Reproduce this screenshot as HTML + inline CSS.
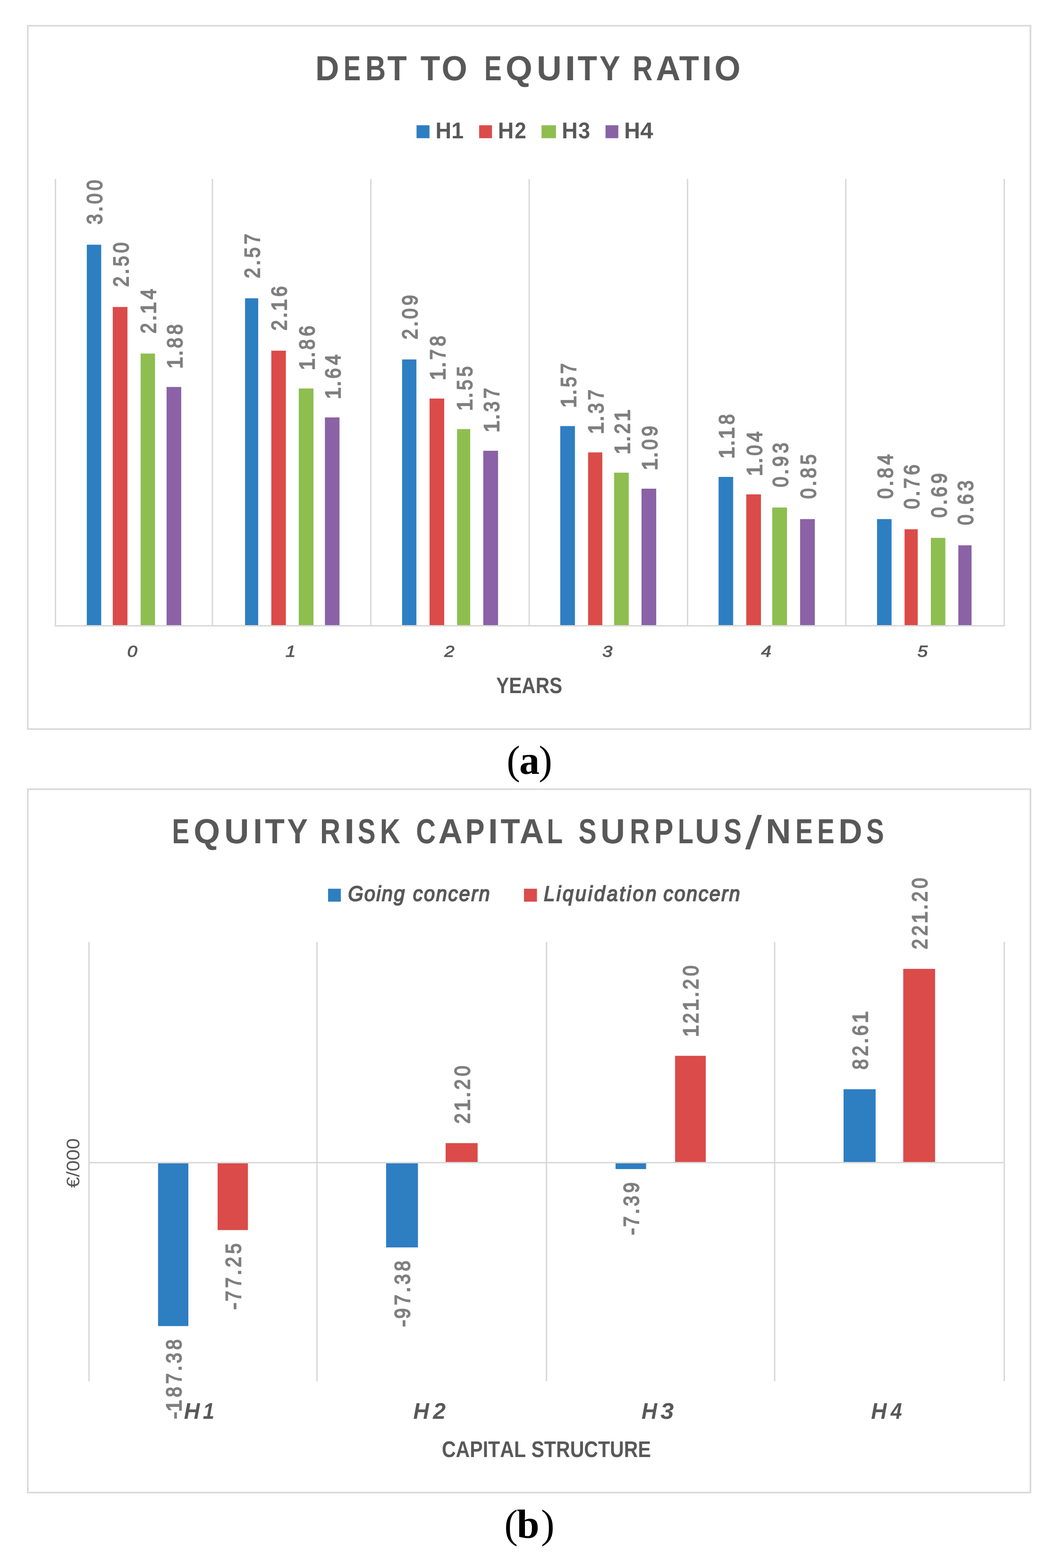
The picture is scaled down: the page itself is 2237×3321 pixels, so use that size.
<!DOCTYPE html>
<html><head><meta charset="utf-8"><title>Debt to equity ratio and equity risk capital charts</title>
<style>
html,body{margin:0;padding:0;background:#fff;}
body{width:2237px;height:3321px;overflow:hidden;}
svg{display:block;}
text{font-kerning:none;text-rendering:geometricPrecision;}
</style></head>
<body>
<svg width="2237" height="3321" viewBox="0 0 2237 3321">
<rect width="2237" height="3321" fill="#fff"/>
<defs><filter id="soft" filterUnits="userSpaceOnUse" x="0" y="0" width="2237" height="3321"><feGaussianBlur stdDeviation="0.6"/></filter></defs>
<g filter="url(#soft)">
<rect x="58.85" y="54.5" width="2124.05" height="1489.60" fill="none" stroke="#d9d9d9" stroke-width="3.4"/>
<rect x="58.85" y="1671.5" width="2124.05" height="1489.75" fill="none" stroke="#d9d9d9" stroke-width="3.4"/>
<text y="169.60" font-size="73.76" style="font-family:'Liberation Sans',sans-serif;font-weight:bold;font-style:normal;fill:#595959"><tspan x="668.03" y="169.60" textLength="50.40" lengthAdjust="spacingAndGlyphs">D</tspan><tspan x="727.75" y="169.60" textLength="36.38" lengthAdjust="spacingAndGlyphs">E</tspan><tspan x="774.00" y="169.60" textLength="43.22" lengthAdjust="spacingAndGlyphs">B</tspan><tspan x="820.44" y="169.60" textLength="41.29" lengthAdjust="spacingAndGlyphs">T</tspan> <tspan x="890.83" y="169.60" textLength="41.70" lengthAdjust="spacingAndGlyphs">T</tspan><tspan x="935.54" y="169.60" textLength="54.29" lengthAdjust="spacingAndGlyphs">O</tspan> <tspan x="1026.10" y="169.60" textLength="36.85" lengthAdjust="spacingAndGlyphs">E</tspan><tspan x="1071.01" y="169.60" textLength="56.76" lengthAdjust="spacingAndGlyphs">Q</tspan><tspan x="1137.01" y="169.60" textLength="52.74" lengthAdjust="spacingAndGlyphs">U</tspan><tspan x="1196.77" y="169.60" textLength="22.57" lengthAdjust="spacingAndGlyphs">I</tspan><tspan x="1223.44" y="169.60" textLength="41.49" lengthAdjust="spacingAndGlyphs">T</tspan><tspan x="1269.67" y="169.60" textLength="44.10" lengthAdjust="spacingAndGlyphs">Y</tspan> <tspan x="1340.29" y="169.60" textLength="42.21" lengthAdjust="spacingAndGlyphs">R</tspan><tspan x="1389.20" y="169.60" textLength="52.21" lengthAdjust="spacingAndGlyphs">A</tspan><tspan x="1438.73" y="169.60" textLength="42.01" lengthAdjust="spacingAndGlyphs">T</tspan><tspan x="1486.89" y="169.60" textLength="21.22" lengthAdjust="spacingAndGlyphs">I</tspan><tspan x="1513.40" y="169.60" textLength="55.08" lengthAdjust="spacingAndGlyphs">O</tspan></text>
<rect x="882.40" y="265.30" width="27.40" height="27.40" fill="#2e7ec2"/>
<text y="292.60" font-size="48.26" style="font-family:'Liberation Sans',sans-serif;font-weight:bold;font-style:normal;fill:#595959"><tspan x="922.38" y="292.60" textLength="33.66" lengthAdjust="spacingAndGlyphs">H</tspan><tspan x="956.36" y="292.60" textLength="25.94" lengthAdjust="spacingAndGlyphs">1</tspan></text>
<rect x="1015.00" y="265.30" width="27.20" height="27.40" fill="#db4c4a"/>
<text y="292.60" font-size="48.26" style="font-family:'Liberation Sans',sans-serif;font-weight:bold;font-style:normal;fill:#595959"><tspan x="1054.79" y="292.60" textLength="33.54" lengthAdjust="spacingAndGlyphs">H</tspan><tspan x="1090.27" y="292.60" textLength="24.49" lengthAdjust="spacingAndGlyphs">2</tspan></text>
<rect x="1147.20" y="265.30" width="30.60" height="27.40" fill="#8dbe4f"/>
<text y="292.60" font-size="48.26" style="font-family:'Liberation Sans',sans-serif;font-weight:bold;font-style:normal;fill:#595959"><tspan x="1190.07" y="292.60" textLength="33.78" lengthAdjust="spacingAndGlyphs">H</tspan><tspan x="1224.96" y="292.60" textLength="25.17" lengthAdjust="spacingAndGlyphs">3</tspan></text>
<rect x="1282.70" y="265.30" width="27.10" height="27.40" fill="#8a62a5"/>
<text y="292.60" font-size="48.26" style="font-family:'Liberation Sans',sans-serif;font-weight:bold;font-style:normal;fill:#595959"><tspan x="1322.37" y="292.60" textLength="33.78" lengthAdjust="spacingAndGlyphs">H</tspan><tspan x="1356.26" y="292.60" textLength="27.31" lengthAdjust="spacingAndGlyphs">4</tspan></text>
<rect x="116.00" y="379.00" width="3.00" height="946.50" fill="#d9d9d9"/>
<rect x="448.50" y="379.00" width="3.00" height="946.50" fill="#d9d9d9"/>
<rect x="784.00" y="379.00" width="3.00" height="946.50" fill="#d9d9d9"/>
<rect x="1119.50" y="379.00" width="3.00" height="946.50" fill="#d9d9d9"/>
<rect x="1455.00" y="379.00" width="3.00" height="946.50" fill="#d9d9d9"/>
<rect x="1790.10" y="379.00" width="3.00" height="946.50" fill="#d9d9d9"/>
<rect x="2126.00" y="379.00" width="3.00" height="946.50" fill="#d9d9d9"/>
<rect x="183.90" y="518.30" width="30.50" height="807.20" fill="#2e7ec2"/>
<text transform="translate(216.46,478.57) rotate(-90)" y="0" font-size="45.50" style="font-family:'Liberation Sans',sans-serif;font-weight:normal;font-style:normal;fill:#7f7f7f;stroke:#7f7f7f;stroke-width:2.2"><tspan x="3.36" textLength="22.02" lengthAdjust="spacingAndGlyphs">3</tspan><tspan x="29.68">.</tspan><tspan x="46.74" textLength="22.02" lengthAdjust="spacingAndGlyphs">0</tspan><tspan x="75.24" textLength="22.02" lengthAdjust="spacingAndGlyphs">0</tspan></text>
<rect x="238.90" y="650.20" width="31.10" height="675.30" fill="#db4c4a"/>
<text transform="translate(271.76,610.83) rotate(-90)" y="0" font-size="45.50" style="font-family:'Liberation Sans',sans-serif;font-weight:normal;font-style:normal;fill:#7f7f7f;stroke:#7f7f7f;stroke-width:2.2"><tspan x="3.24" textLength="22.02" lengthAdjust="spacingAndGlyphs">2</tspan><tspan x="29.68">.</tspan><tspan x="46.78" textLength="22.02" lengthAdjust="spacingAndGlyphs">5</tspan><tspan x="75.24" textLength="22.02" lengthAdjust="spacingAndGlyphs">0</tspan></text>
<rect x="297.90" y="748.80" width="30.50" height="576.70" fill="#8dbe4f"/>
<text transform="translate(330.46,709.43) rotate(-90)" y="0" font-size="45.50" style="font-family:'Liberation Sans',sans-serif;font-weight:normal;font-style:normal;fill:#7f7f7f;stroke:#7f7f7f;stroke-width:2.2"><tspan x="3.24" textLength="22.02" lengthAdjust="spacingAndGlyphs">2</tspan><tspan x="29.68">.</tspan><tspan x="44.48">1</tspan><tspan x="75.37" textLength="22.02" lengthAdjust="spacingAndGlyphs">4</tspan></text>
<rect x="352.90" y="819.60" width="31.00" height="505.90" fill="#8a62a5"/>
<text transform="translate(385.71,779.94) rotate(-90)" y="0" font-size="45.50" style="font-family:'Liberation Sans',sans-serif;font-weight:normal;font-style:normal;fill:#7f7f7f;stroke:#7f7f7f;stroke-width:2.2"><tspan x="-1.02">1</tspan><tspan x="25.68">.</tspan><tspan x="42.74" textLength="22.02" lengthAdjust="spacingAndGlyphs">8</tspan><tspan x="71.24" textLength="22.02" lengthAdjust="spacingAndGlyphs">8</tspan></text>
<rect x="519.10" y="631.80" width="27.90" height="693.70" fill="#2e7ec2"/>
<text transform="translate(550.36,592.43) rotate(-90)" y="0" font-size="45.50" style="font-family:'Liberation Sans',sans-serif;font-weight:normal;font-style:normal;fill:#7f7f7f;stroke:#7f7f7f;stroke-width:2.2"><tspan x="3.24" textLength="22.02" lengthAdjust="spacingAndGlyphs">2</tspan><tspan x="29.68">.</tspan><tspan x="46.78" textLength="22.02" lengthAdjust="spacingAndGlyphs">5</tspan><tspan x="75.22" textLength="22.02" lengthAdjust="spacingAndGlyphs">7</tspan></text>
<rect x="574.70" y="742.70" width="30.90" height="582.80" fill="#db4c4a"/>
<text transform="translate(607.46,703.33) rotate(-90)" y="0" font-size="45.50" style="font-family:'Liberation Sans',sans-serif;font-weight:normal;font-style:normal;fill:#7f7f7f;stroke:#7f7f7f;stroke-width:2.2"><tspan x="3.24" textLength="22.02" lengthAdjust="spacingAndGlyphs">2</tspan><tspan x="29.68">.</tspan><tspan x="44.48">1</tspan><tspan x="75.11" textLength="22.02" lengthAdjust="spacingAndGlyphs">6</tspan></text>
<rect x="632.90" y="822.80" width="31.20" height="502.70" fill="#8dbe4f"/>
<text transform="translate(665.81,783.14) rotate(-90)" y="0" font-size="45.50" style="font-family:'Liberation Sans',sans-serif;font-weight:normal;font-style:normal;fill:#7f7f7f;stroke:#7f7f7f;stroke-width:2.2"><tspan x="-1.02">1</tspan><tspan x="25.68">.</tspan><tspan x="42.74" textLength="22.02" lengthAdjust="spacingAndGlyphs">8</tspan><tspan x="71.11" textLength="22.02" lengthAdjust="spacingAndGlyphs">6</tspan></text>
<rect x="688.30" y="884.10" width="30.90" height="441.40" fill="#8a62a5"/>
<text transform="translate(721.06,844.44) rotate(-90)" y="0" font-size="45.50" style="font-family:'Liberation Sans',sans-serif;font-weight:normal;font-style:normal;fill:#7f7f7f;stroke:#7f7f7f;stroke-width:2.2"><tspan x="-1.02">1</tspan><tspan x="25.68">.</tspan><tspan x="42.61" textLength="22.02" lengthAdjust="spacingAndGlyphs">6</tspan><tspan x="71.37" textLength="22.02" lengthAdjust="spacingAndGlyphs">4</tspan></text>
<rect x="851.80" y="761.30" width="30.30" height="564.20" fill="#2e7ec2"/>
<text transform="translate(884.26,721.93) rotate(-90)" y="0" font-size="45.50" style="font-family:'Liberation Sans',sans-serif;font-weight:normal;font-style:normal;fill:#7f7f7f;stroke:#7f7f7f;stroke-width:2.2"><tspan x="3.24" textLength="22.02" lengthAdjust="spacingAndGlyphs">2</tspan><tspan x="29.68">.</tspan><tspan x="46.74" textLength="22.02" lengthAdjust="spacingAndGlyphs">0</tspan><tspan x="75.25" textLength="22.02" lengthAdjust="spacingAndGlyphs">9</tspan></text>
<rect x="910.00" y="844.10" width="31.00" height="481.40" fill="#db4c4a"/>
<text transform="translate(942.81,804.44) rotate(-90)" y="0" font-size="45.50" style="font-family:'Liberation Sans',sans-serif;font-weight:normal;font-style:normal;fill:#7f7f7f;stroke:#7f7f7f;stroke-width:2.2"><tspan x="-1.02">1</tspan><tspan x="25.68">.</tspan><tspan x="42.72" textLength="22.02" lengthAdjust="spacingAndGlyphs">7</tspan><tspan x="71.24" textLength="22.02" lengthAdjust="spacingAndGlyphs">8</tspan></text>
<rect x="968.30" y="908.80" width="27.80" height="416.70" fill="#8dbe4f"/>
<text transform="translate(999.51,869.14) rotate(-90)" y="0" font-size="45.50" style="font-family:'Liberation Sans',sans-serif;font-weight:normal;font-style:normal;fill:#7f7f7f;stroke:#7f7f7f;stroke-width:2.2"><tspan x="-1.02">1</tspan><tspan x="25.68">.</tspan><tspan x="42.78" textLength="22.02" lengthAdjust="spacingAndGlyphs">5</tspan><tspan x="71.28" textLength="22.02" lengthAdjust="spacingAndGlyphs">5</tspan></text>
<rect x="1023.70" y="954.70" width="31.40" height="370.80" fill="#8a62a5"/>
<text transform="translate(1056.71,915.04) rotate(-90)" y="0" font-size="45.50" style="font-family:'Liberation Sans',sans-serif;font-weight:normal;font-style:normal;fill:#7f7f7f;stroke:#7f7f7f;stroke-width:2.2"><tspan x="-1.02">1</tspan><tspan x="25.68">.</tspan><tspan x="42.86" textLength="22.02" lengthAdjust="spacingAndGlyphs">3</tspan><tspan x="71.22" textLength="22.02" lengthAdjust="spacingAndGlyphs">7</tspan></text>
<rect x="1186.80" y="902.40" width="31.10" height="423.10" fill="#2e7ec2"/>
<text transform="translate(1219.66,862.74) rotate(-90)" y="0" font-size="45.50" style="font-family:'Liberation Sans',sans-serif;font-weight:normal;font-style:normal;fill:#7f7f7f;stroke:#7f7f7f;stroke-width:2.2"><tspan x="-1.02">1</tspan><tspan x="25.68">.</tspan><tspan x="42.78" textLength="22.02" lengthAdjust="spacingAndGlyphs">5</tspan><tspan x="71.22" textLength="22.02" lengthAdjust="spacingAndGlyphs">7</tspan></text>
<rect x="1245.80" y="958.20" width="30.10" height="367.30" fill="#db4c4a"/>
<text transform="translate(1278.16,918.54) rotate(-90)" y="0" font-size="45.50" style="font-family:'Liberation Sans',sans-serif;font-weight:normal;font-style:normal;fill:#7f7f7f;stroke:#7f7f7f;stroke-width:2.2"><tspan x="-1.02">1</tspan><tspan x="25.68">.</tspan><tspan x="42.86" textLength="22.02" lengthAdjust="spacingAndGlyphs">3</tspan><tspan x="71.22" textLength="22.02" lengthAdjust="spacingAndGlyphs">7</tspan></text>
<rect x="1300.90" y="1001.10" width="31.00" height="324.40" fill="#8dbe4f"/>
<text transform="translate(1333.71,961.44) rotate(-90)" y="0" font-size="45.50" style="font-family:'Liberation Sans',sans-serif;font-weight:normal;font-style:normal;fill:#7f7f7f;stroke:#7f7f7f;stroke-width:2.2"><tspan x="-1.02">1</tspan><tspan x="25.68">.</tspan><tspan x="42.74" textLength="22.02" lengthAdjust="spacingAndGlyphs">2</tspan><tspan x="68.98">1</tspan></text>
<rect x="1359.00" y="1035.00" width="31.10" height="290.50" fill="#8a62a5"/>
<text transform="translate(1391.86,995.34) rotate(-90)" y="0" font-size="45.50" style="font-family:'Liberation Sans',sans-serif;font-weight:normal;font-style:normal;fill:#7f7f7f;stroke:#7f7f7f;stroke-width:2.2"><tspan x="-1.02">1</tspan><tspan x="25.68">.</tspan><tspan x="42.74" textLength="22.02" lengthAdjust="spacingAndGlyphs">0</tspan><tspan x="71.25" textLength="22.02" lengthAdjust="spacingAndGlyphs">9</tspan></text>
<rect x="1522.20" y="1010.10" width="30.90" height="315.40" fill="#2e7ec2"/>
<text transform="translate(1554.96,970.44) rotate(-90)" y="0" font-size="45.50" style="font-family:'Liberation Sans',sans-serif;font-weight:normal;font-style:normal;fill:#7f7f7f;stroke:#7f7f7f;stroke-width:2.2"><tspan x="-1.02">1</tspan><tspan x="25.68">.</tspan><tspan x="40.48">1</tspan><tspan x="71.24" textLength="22.02" lengthAdjust="spacingAndGlyphs">8</tspan></text>
<rect x="1580.80" y="1047.10" width="31.20" height="278.40" fill="#db4c4a"/>
<text transform="translate(1613.71,1007.44) rotate(-90)" y="0" font-size="45.50" style="font-family:'Liberation Sans',sans-serif;font-weight:normal;font-style:normal;fill:#7f7f7f;stroke:#7f7f7f;stroke-width:2.2"><tspan x="-1.02">1</tspan><tspan x="25.68">.</tspan><tspan x="42.74" textLength="22.02" lengthAdjust="spacingAndGlyphs">0</tspan><tspan x="71.37" textLength="22.02" lengthAdjust="spacingAndGlyphs">4</tspan></text>
<rect x="1635.90" y="1074.90" width="31.30" height="250.60" fill="#8dbe4f"/>
<text transform="translate(1668.86,1035.09) rotate(-90)" y="0" font-size="45.50" style="font-family:'Liberation Sans',sans-serif;font-weight:normal;font-style:normal;fill:#7f7f7f;stroke:#7f7f7f;stroke-width:2.2"><tspan x="3.24" textLength="22.02" lengthAdjust="spacingAndGlyphs">0</tspan><tspan x="29.68">.</tspan><tspan x="46.75" textLength="22.02" lengthAdjust="spacingAndGlyphs">9</tspan><tspan x="75.36" textLength="22.02" lengthAdjust="spacingAndGlyphs">3</tspan></text>
<rect x="1694.90" y="1099.40" width="31.20" height="226.10" fill="#8a62a5"/>
<text transform="translate(1727.81,1059.59) rotate(-90)" y="0" font-size="45.50" style="font-family:'Liberation Sans',sans-serif;font-weight:normal;font-style:normal;fill:#7f7f7f;stroke:#7f7f7f;stroke-width:2.2"><tspan x="3.24" textLength="22.02" lengthAdjust="spacingAndGlyphs">0</tspan><tspan x="29.68">.</tspan><tspan x="46.74" textLength="22.02" lengthAdjust="spacingAndGlyphs">8</tspan><tspan x="75.28" textLength="22.02" lengthAdjust="spacingAndGlyphs">5</tspan></text>
<rect x="1857.90" y="1099.40" width="30.80" height="226.10" fill="#2e7ec2"/>
<text transform="translate(1890.61,1059.59) rotate(-90)" y="0" font-size="45.50" style="font-family:'Liberation Sans',sans-serif;font-weight:normal;font-style:normal;fill:#7f7f7f;stroke:#7f7f7f;stroke-width:2.2"><tspan x="3.24" textLength="22.02" lengthAdjust="spacingAndGlyphs">0</tspan><tspan x="29.68">.</tspan><tspan x="46.74" textLength="22.02" lengthAdjust="spacingAndGlyphs">8</tspan><tspan x="75.37" textLength="22.02" lengthAdjust="spacingAndGlyphs">4</tspan></text>
<rect x="1916.20" y="1121.00" width="27.90" height="204.50" fill="#db4c4a"/>
<text transform="translate(1947.46,1081.19) rotate(-90)" y="0" font-size="45.50" style="font-family:'Liberation Sans',sans-serif;font-weight:normal;font-style:normal;fill:#7f7f7f;stroke:#7f7f7f;stroke-width:2.2"><tspan x="3.24" textLength="22.02" lengthAdjust="spacingAndGlyphs">0</tspan><tspan x="29.68">.</tspan><tspan x="46.72" textLength="22.02" lengthAdjust="spacingAndGlyphs">7</tspan><tspan x="75.11" textLength="22.02" lengthAdjust="spacingAndGlyphs">6</tspan></text>
<rect x="1971.90" y="1139.20" width="30.70" height="186.30" fill="#8dbe4f"/>
<text transform="translate(2004.56,1099.39) rotate(-90)" y="0" font-size="45.50" style="font-family:'Liberation Sans',sans-serif;font-weight:normal;font-style:normal;fill:#7f7f7f;stroke:#7f7f7f;stroke-width:2.2"><tspan x="3.24" textLength="22.02" lengthAdjust="spacingAndGlyphs">0</tspan><tspan x="29.68">.</tspan><tspan x="46.61" textLength="22.02" lengthAdjust="spacingAndGlyphs">6</tspan><tspan x="75.25" textLength="22.02" lengthAdjust="spacingAndGlyphs">9</tspan></text>
<rect x="2030.10" y="1155.00" width="28.00" height="170.50" fill="#8a62a5"/>
<text transform="translate(2061.41,1115.19) rotate(-90)" y="0" font-size="45.50" style="font-family:'Liberation Sans',sans-serif;font-weight:normal;font-style:normal;fill:#7f7f7f;stroke:#7f7f7f;stroke-width:2.2"><tspan x="3.24" textLength="22.02" lengthAdjust="spacingAndGlyphs">0</tspan><tspan x="29.68">.</tspan><tspan x="46.61" textLength="22.02" lengthAdjust="spacingAndGlyphs">6</tspan><tspan x="75.36" textLength="22.02" lengthAdjust="spacingAndGlyphs">3</tspan></text>
<rect x="116.00" y="1324.00" width="2013.00" height="3.00" fill="#d9d9d9"/>
<text transform="translate(269.45,1391.20) scale(1.1500,1)" font-size="33.37" style="font-family:'Liberation Sans',sans-serif;font-weight:normal;font-style:italic;fill:#595959;stroke:#595959;stroke-width:1.0">0</text>
<text transform="translate(604.81,1391.20) scale(1.1500,1)" font-size="33.87" style="font-family:'Liberation Sans',sans-serif;font-weight:normal;font-style:italic;fill:#595959;stroke:#595959;stroke-width:1.0">1</text>
<text transform="translate(941.32,1391.20) scale(1.1500,1)" font-size="33.37" style="font-family:'Liberation Sans',sans-serif;font-weight:normal;font-style:italic;fill:#595959;stroke:#595959;stroke-width:1.0">2</text>
<text transform="translate(1276.05,1391.20) scale(1.1500,1)" font-size="33.37" style="font-family:'Liberation Sans',sans-serif;font-weight:normal;font-style:italic;fill:#595959;stroke:#595959;stroke-width:1.0">3</text>
<text transform="translate(1612.18,1391.20) scale(1.1500,1)" font-size="33.87" style="font-family:'Liberation Sans',sans-serif;font-weight:normal;font-style:italic;fill:#595959;stroke:#595959;stroke-width:1.0">4</text>
<text transform="translate(1943.58,1391.20) scale(1.1500,1)" font-size="33.87" style="font-family:'Liberation Sans',sans-serif;font-weight:normal;font-style:italic;fill:#595959;stroke:#595959;stroke-width:1.0">5</text>
<text transform="translate(1051.31,1468.20) scale(0.8552,1)" font-size="47.40" style="font-family:'Liberation Sans',sans-serif;font-weight:bold;font-style:normal;fill:#595959">YEARS</text>
<text y="1786.40" font-size="73.90" style="font-family:'Liberation Sans',sans-serif;font-weight:bold;font-style:normal;fill:#595959"><tspan x="364.53" y="1786.40" textLength="36.62" lengthAdjust="spacingAndGlyphs">E</tspan><tspan x="410.15" y="1786.40" textLength="55.86" lengthAdjust="spacingAndGlyphs">Q</tspan><tspan x="474.93" y="1786.40" textLength="52.50" lengthAdjust="spacingAndGlyphs">U</tspan><tspan x="536.26" y="1786.40" textLength="19.67" lengthAdjust="spacingAndGlyphs">I</tspan><tspan x="561.34" y="1786.40" textLength="41.60" lengthAdjust="spacingAndGlyphs">T</tspan><tspan x="608.18" y="1786.40" textLength="43.88" lengthAdjust="spacingAndGlyphs">Y</tspan> <tspan x="677.90" y="1786.40" textLength="43.23" lengthAdjust="spacingAndGlyphs">R</tspan><tspan x="729.35" y="1786.40" textLength="21.80" lengthAdjust="spacingAndGlyphs">I</tspan><tspan x="757.67" y="1786.40" textLength="37.74" lengthAdjust="spacingAndGlyphs">S</tspan><tspan x="804.80" y="1786.40" textLength="43.15" lengthAdjust="spacingAndGlyphs">K</tspan> <tspan x="881.22" y="1786.40" textLength="41.86" lengthAdjust="spacingAndGlyphs">C</tspan><tspan x="928.43" y="1786.40" textLength="51.35" lengthAdjust="spacingAndGlyphs">A</tspan><tspan x="985.71" y="1786.40" textLength="40.78" lengthAdjust="spacingAndGlyphs">P</tspan><tspan x="1033.98" y="1786.40" textLength="20.83" lengthAdjust="spacingAndGlyphs">I</tspan><tspan x="1060.54" y="1786.40" textLength="41.18" lengthAdjust="spacingAndGlyphs">T</tspan><tspan x="1100.73" y="1786.40" textLength="51.35" lengthAdjust="spacingAndGlyphs">A</tspan><tspan x="1158.42" y="1786.40" textLength="33.57" lengthAdjust="spacingAndGlyphs">L</tspan> <tspan x="1225.56" y="1786.40" textLength="38.07" lengthAdjust="spacingAndGlyphs">S</tspan><tspan x="1271.97" y="1786.40" textLength="52.02" lengthAdjust="spacingAndGlyphs">U</tspan><tspan x="1334.06" y="1786.40" textLength="42.55" lengthAdjust="spacingAndGlyphs">R</tspan><tspan x="1386.05" y="1786.40" textLength="40.43" lengthAdjust="spacingAndGlyphs">P</tspan><tspan x="1435.90" y="1786.40" textLength="32.85" lengthAdjust="spacingAndGlyphs">L</tspan><tspan x="1472.06" y="1786.40" textLength="52.14" lengthAdjust="spacingAndGlyphs">U</tspan><tspan x="1533.37" y="1786.40" textLength="37.85" lengthAdjust="spacingAndGlyphs">S</tspan><tspan x="1578.40" y="1797.83" font-size="99.40" style="font-weight:normal" textLength="35.60" lengthAdjust="spacingAndGlyphs">/</tspan><tspan x="1622.03" y="1786.40" textLength="53.68" lengthAdjust="spacingAndGlyphs">N</tspan><tspan x="1684.90" y="1786.40" textLength="36.85" lengthAdjust="spacingAndGlyphs">E</tspan><tspan x="1731.36" y="1786.40" textLength="36.26" lengthAdjust="spacingAndGlyphs">E</tspan><tspan x="1776.14" y="1786.40" textLength="50.28" lengthAdjust="spacingAndGlyphs">D</tspan><tspan x="1834.97" y="1786.40" textLength="37.63" lengthAdjust="spacingAndGlyphs">S</tspan></text>
<rect x="695.00" y="1882.30" width="27.00" height="27.40" fill="#2e7ec2"/>
<text transform="scale(0.93,1)" y="1908.40" font-size="44.77" style="font-family:'Liberation Sans',sans-serif;font-weight:normal;font-style:italic;fill:#595959;stroke:#595959;stroke-width:2.0"><tspan x="792.63" style="letter-spacing:2.478px">Going</tspan> <tspan x="940.58" style="letter-spacing:2.658px">concern</tspan></text>
<rect x="1110.00" y="1882.30" width="27.50" height="27.40" fill="#db4c4a"/>
<text transform="scale(0.93,1)" y="1908.40" font-size="44.77" style="font-family:'Liberation Sans',sans-serif;font-weight:normal;font-style:italic;fill:#595959;stroke:#595959;stroke-width:2.0"><tspan x="1238.62" style="letter-spacing:4.007px">Liquidation</tspan> <tspan x="1511.12" style="letter-spacing:2.533px">concern</tspan></text>
<rect x="187.00" y="1995.00" width="3.00" height="930.50" fill="#d9d9d9"/>
<rect x="670.00" y="1995.00" width="3.00" height="930.50" fill="#d9d9d9"/>
<rect x="1156.20" y="1995.00" width="3.00" height="930.50" fill="#d9d9d9"/>
<rect x="1639.50" y="1995.00" width="3.00" height="930.50" fill="#d9d9d9"/>
<rect x="2126.00" y="1995.00" width="3.00" height="930.50" fill="#d9d9d9"/>
<rect x="334.80" y="2462.50" width="64.20" height="346.10" fill="#2e7ec2"/>
<text transform="translate(383.56,3005.04) rotate(-90)" y="0" font-size="45.50" style="font-family:'Liberation Sans',sans-serif;font-weight:normal;font-style:normal;fill:#7f7f7f;stroke:#7f7f7f;stroke-width:2.2"><tspan x="-0.58">-</tspan><tspan x="14.98">1</tspan><tspan x="45.74" textLength="22.02" lengthAdjust="spacingAndGlyphs">8</tspan><tspan x="74.22" textLength="22.02" lengthAdjust="spacingAndGlyphs">7</tspan><tspan x="100.68">.</tspan><tspan x="117.86" textLength="22.02" lengthAdjust="spacingAndGlyphs">3</tspan><tspan x="146.24" textLength="22.02" lengthAdjust="spacingAndGlyphs">8</tspan></text>
<rect x="461.00" y="2462.50" width="64.20" height="142.80" fill="#db4c4a"/>
<text transform="translate(509.76,2773.33) rotate(-90)" y="0" font-size="45.50" style="font-family:'Liberation Sans',sans-serif;font-weight:normal;font-style:normal;fill:#7f7f7f;stroke:#7f7f7f;stroke-width:2.2"><tspan x="-0.58">-</tspan><tspan x="17.22" textLength="22.02" lengthAdjust="spacingAndGlyphs">7</tspan><tspan x="45.72" textLength="22.02" lengthAdjust="spacingAndGlyphs">7</tspan><tspan x="72.18">.</tspan><tspan x="89.24" textLength="22.02" lengthAdjust="spacingAndGlyphs">2</tspan><tspan x="117.78" textLength="22.02" lengthAdjust="spacingAndGlyphs">5</tspan></text>
<rect x="817.90" y="2462.50" width="67.50" height="179.50" fill="#2e7ec2"/>
<text transform="translate(868.31,2809.94) rotate(-90)" y="0" font-size="45.50" style="font-family:'Liberation Sans',sans-serif;font-weight:normal;font-style:normal;fill:#7f7f7f;stroke:#7f7f7f;stroke-width:2.2"><tspan x="-0.58">-</tspan><tspan x="17.25" textLength="22.02" lengthAdjust="spacingAndGlyphs">9</tspan><tspan x="45.72" textLength="22.02" lengthAdjust="spacingAndGlyphs">7</tspan><tspan x="72.18">.</tspan><tspan x="89.36" textLength="22.02" lengthAdjust="spacingAndGlyphs">3</tspan><tspan x="117.74" textLength="22.02" lengthAdjust="spacingAndGlyphs">8</tspan></text>
<rect x="944.00" y="2421.10" width="67.80" height="41.40" fill="#db4c4a"/>
<text transform="translate(994.56,2382.93) rotate(-90)" y="0" font-size="45.50" style="font-family:'Liberation Sans',sans-serif;font-weight:normal;font-style:normal;fill:#7f7f7f;stroke:#7f7f7f;stroke-width:2.2"><tspan x="3.24" textLength="22.02" lengthAdjust="spacingAndGlyphs">2</tspan><tspan x="29.48">1</tspan><tspan x="58.18">.</tspan><tspan x="75.24" textLength="22.02" lengthAdjust="spacingAndGlyphs">2</tspan><tspan x="103.74" textLength="22.02" lengthAdjust="spacingAndGlyphs">0</tspan></text>
<rect x="1304.00" y="2462.50" width="64.70" height="13.60" fill="#2e7ec2"/>
<text transform="translate(1353.01,2615.39) rotate(-90)" y="0" font-size="45.50" style="font-family:'Liberation Sans',sans-serif;font-weight:normal;font-style:normal;fill:#7f7f7f;stroke:#7f7f7f;stroke-width:2.2"><tspan x="-0.58">-</tspan><tspan x="17.22" textLength="22.02" lengthAdjust="spacingAndGlyphs">7</tspan><tspan x="43.68">.</tspan><tspan x="60.86" textLength="22.02" lengthAdjust="spacingAndGlyphs">3</tspan><tspan x="89.25" textLength="22.02" lengthAdjust="spacingAndGlyphs">9</tspan></text>
<rect x="1430.10" y="2236.20" width="65.00" height="226.30" fill="#db4c4a"/>
<text transform="translate(1479.26,2195.24) rotate(-90)" y="0" font-size="45.50" style="font-family:'Liberation Sans',sans-serif;font-weight:normal;font-style:normal;fill:#7f7f7f;stroke:#7f7f7f;stroke-width:2.2"><tspan x="-1.02">1</tspan><tspan x="27.74" textLength="22.02" lengthAdjust="spacingAndGlyphs">2</tspan><tspan x="53.98">1</tspan><tspan x="82.68">.</tspan><tspan x="99.74" textLength="22.02" lengthAdjust="spacingAndGlyphs">2</tspan><tspan x="128.24" textLength="22.02" lengthAdjust="spacingAndGlyphs">0</tspan></text>
<rect x="1787.00" y="2307.00" width="67.90" height="155.50" fill="#2e7ec2"/>
<text transform="translate(1837.61,2268.56) rotate(-90)" y="0" font-size="45.50" style="font-family:'Liberation Sans',sans-serif;font-weight:normal;font-style:normal;fill:#7f7f7f;stroke:#7f7f7f;stroke-width:2.2"><tspan x="3.24" textLength="22.02" lengthAdjust="spacingAndGlyphs">8</tspan><tspan x="31.74" textLength="22.02" lengthAdjust="spacingAndGlyphs">2</tspan><tspan x="58.18">.</tspan><tspan x="75.11" textLength="22.02" lengthAdjust="spacingAndGlyphs">6</tspan><tspan x="101.48">1</tspan></text>
<rect x="1913.40" y="2052.00" width="67.50" height="410.50" fill="#db4c4a"/>
<text transform="translate(1963.81,2013.83) rotate(-90)" y="0" font-size="45.50" style="font-family:'Liberation Sans',sans-serif;font-weight:normal;font-style:normal;fill:#7f7f7f;stroke:#7f7f7f;stroke-width:2.2"><tspan x="3.24" textLength="22.02" lengthAdjust="spacingAndGlyphs">2</tspan><tspan x="31.74" textLength="22.02" lengthAdjust="spacingAndGlyphs">2</tspan><tspan x="57.98">1</tspan><tspan x="86.68">.</tspan><tspan x="103.74" textLength="22.02" lengthAdjust="spacingAndGlyphs">2</tspan><tspan x="132.24" textLength="22.02" lengthAdjust="spacingAndGlyphs">0</tspan></text>
<rect x="187.00" y="2461.00" width="1942.00" height="3.00" fill="#d9d9d9"/>
<text y="3005.00" font-size="47.82" style="font-family:'Liberation Sans',sans-serif;font-weight:bold;font-style:italic;fill:#595959"><tspan x="389.68" y="3005.00" textLength="33.52" lengthAdjust="spacingAndGlyphs">H</tspan><tspan x="429.69" y="3005.00" textLength="24.36" lengthAdjust="spacingAndGlyphs">1</tspan></text>
<text y="3005.00" font-size="47.82" style="font-family:'Liberation Sans',sans-serif;font-weight:bold;font-style:italic;fill:#595959"><tspan x="875.49" y="3005.00" textLength="33.42" lengthAdjust="spacingAndGlyphs">H</tspan><tspan x="917.15" y="3005.00" textLength="26.84" lengthAdjust="spacingAndGlyphs">2</tspan></text>
<text y="3005.00" font-size="47.82" style="font-family:'Liberation Sans',sans-serif;font-weight:bold;font-style:italic;fill:#595959"><tspan x="1358.99" y="3005.00" textLength="33.12" lengthAdjust="spacingAndGlyphs">H</tspan><tspan x="1398.90" y="3005.00" textLength="28.37" lengthAdjust="spacingAndGlyphs">3</tspan></text>
<text y="3005.00" font-size="47.82" style="font-family:'Liberation Sans',sans-serif;font-weight:bold;font-style:italic;fill:#595959"><tspan x="1845.19" y="3005.00" textLength="33.12" lengthAdjust="spacingAndGlyphs">H</tspan><tspan x="1886.81" y="3005.00" textLength="23.92" lengthAdjust="spacingAndGlyphs">4</tspan></text>
<text transform="translate(935.91,3085.50) scale(0.8569,1)" font-size="47.98" style="font-family:'Liberation Sans',sans-serif;font-weight:bold;font-style:normal;fill:#595959">CAPITAL STRUCTURE</text>
<text transform="translate(168.30,2516.03) rotate(-90) scale(1.0900,1)" font-size="38.50" style="font-family:'Liberation Sans',sans-serif;font-weight:normal;font-style:normal;fill:#595959">€/000</text>
</g>
<text y="1639.3" font-size="86" style="font-family:'Liberation Serif',serif;fill:#000"><tspan x="1073.22" style="font-weight:normal">(</tspan><tspan x="1100.03" style="font-weight:bold">a</tspan><tspan x="1141.23" style="font-weight:normal">)</tspan></text>
<text y="3256.7" font-size="86" style="font-family:'Liberation Serif',serif;fill:#000"><tspan x="1068.32" style="font-weight:normal">(</tspan><tspan x="1094.81" style="font-weight:bold">b</tspan><tspan x="1145.93" style="font-weight:normal">)</tspan></text>
</svg>
</body></html>
